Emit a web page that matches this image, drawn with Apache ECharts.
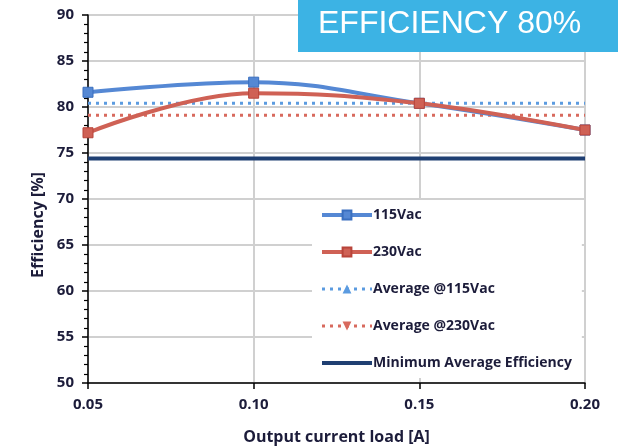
<!DOCTYPE html>
<html><head><meta charset="utf-8">
<script src="https://cdn.jsdelivr.net/npm/echarts@6/dist/echarts.min.js"></script>
<style>html,body{margin:0;padding:0;background:#fff}#c{width:618px;height:447px}</style>
</head><body><div id="c"></div>
<script>
const loads = [0.05, 0.10, 0.15, 0.20];
const eff115 = [81.6, 82.7, 80.4, 77.5];
const eff230 = [77.2, 81.5, 80.4, 77.5];
const avg115 = [80.4, 80.4, 80.4, 80.4];
const avg230 = [79.1, 79.1, 79.1, 79.1];
const minAvg = [74.4, 74.4, 74.4, 74.4];
const names = ['115Vac', '230Vac', 'Average @115Vac', 'Average @230Vac', 'Minimum Average Efficiency'];
const yTicks = [50, 55, 60, 65, 70, 75, 80, 85, 90];

const pair = arr => loads.map((x, i) => [x, arr[i]]);
const font = '"Open Sans", Lato, sans-serif';
const txt = '#1c1c3a';
const legendWidths = [4, 4, 3, 3, 4];
const chart = echarts.init(document.getElementById('c'));
chart.setOption({
  animation: false,
  grid: {left: 88, right: 33, top: 15, bottom: 64, outerBoundsMode: 'none', containLabel: false},
  xAxis: {
    type: 'value', min: 0.05, max: 0.2, interval: 0.05,
    axisLine: {lineStyle: {color: '#000', width: 1.5}},
    axisTick: {show: true, length: 6, lineStyle: {color: '#000', width: 1.5}},
    axisLabel: {formatter: v => v.toFixed(2), color: txt, fontWeight: 'bold', fontSize: 15, fontFamily: font, margin: 14},
    splitLine: {show: true, lineStyle: {color: '#d0d0d0', width: 2}},
    name: 'Output current load [A]', nameLocation: 'middle', nameGap: 46,
    nameTextStyle: {color: txt, fontWeight: 'bold', fontSize: 16, fontFamily: font}
  },
  yAxis: {
    type: 'value', min: 50, max: 90, interval: 5,
    axisLine: {show: true, lineStyle: {color: '#000', width: 1.5}},
    axisTick: {show: true, length: 6, lineStyle: {color: '#000', width: 1.5}},
    minorTick: {show: true, splitNumber: 5, length: 4, lineStyle: {color: '#000', width: 1.2}},
    axisLabel: {formatter: v => yTicks.includes(v) ? String(v) : '', color: txt, fontWeight: 'bold', fontSize: 15, fontFamily: font, margin: 14},
    splitLine: {show: true, lineStyle: {color: '#d0d0d0', width: 2}},
    name: 'Efficiency [%]', nameLocation: 'middle', nameGap: 42, nameRotate: 90,
    nameTextStyle: {color: txt, fontWeight: 'bold', fontSize: 16, fontFamily: font, padding: [0, 52, 0, 0]}
  },
  legend: {
    orient: 'vertical', left: 312, top: 200, width: 290, height: 185,
    backgroundColor: '#fff', padding: [8, 10, 8, 8], itemGap: 23,
    itemWidth: 50, itemHeight: 11,
    textStyle: {color: txt, fontWeight: 'bold', fontSize: 14, fontFamily: font, padding: [0, 0, 0, -4]},
    data: names.map((n, i) => ({name: n, lineStyle: {width: legendWidths[i]}}))
  },
  series: [
    {name: names[0], type: 'line', data: pair(eff115), smooth: 0.4, symbol: 'rect', symbolSize: 10,
     lineStyle: {color: '#5588d4', width: 4}, itemStyle: {color: '#5588d4', borderColor: '#3a6fbf', borderWidth: 1}, z: 3},
    {name: names[1], type: 'line', data: pair(eff230), smooth: 0.4, symbol: 'rect', symbolSize: 10,
     lineStyle: {color: '#cf6155', width: 4}, itemStyle: {color: '#cf6155', borderColor: '#b8443a', borderWidth: 1}, z: 4},
    {name: names[2], type: 'line', data: pair(avg115), showSymbol: false, symbol: 'triangle', symbolSize: 5,
     lineStyle: {color: '#5b9be0', width: 3, type: [3, 5]}, itemStyle: {color: '#5b9be0'}, z: 2},
    {name: names[3], type: 'line', data: pair(avg230), showSymbol: false, symbol: 'triangle', symbolRotate: 180, symbolSize: 5,
     lineStyle: {color: '#d86a5e', width: 3, type: [3, 5]}, itemStyle: {color: '#d86a5e'}, z: 2},
    {name: names[4], type: 'line', data: pair(minAvg), showSymbol: false, symbol: 'circle',
     lineStyle: {color: '#1f3f72', width: 4}, itemStyle: {color: 'rgba(0,0,0,0)', borderWidth: 0}, z: 2}
  ],
  graphic: [
    {type: 'rect', left: 298, top: 0, z: 100, shape: {width: 320, height: 52}, style: {fill: '#3cb3e4'}},
    {type: 'text', left: 318, top: 8, z: 101, style: {text: 'EFFICIENCY 80%', fill: '#fff', fontSize: 32, fontFamily: '"Liberation Sans", Arial, sans-serif'}}
  ]
});
</script></body></html>
